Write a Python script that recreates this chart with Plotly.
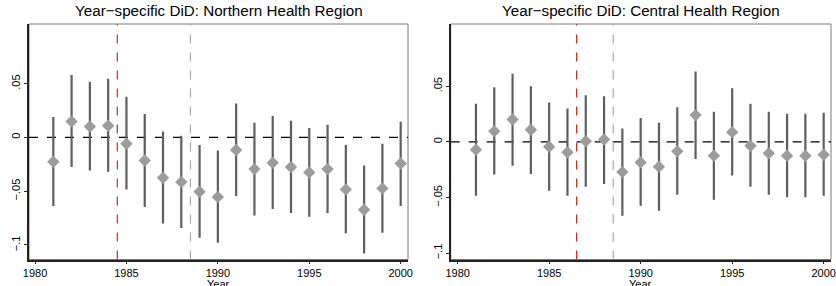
import plotly.graph_objects as go

years = list(range(1981, 2001))

# Northern Health Region
north_est = [-0.0226, 0.0149, 0.0102, 0.0109, -0.0059, -0.0214, -0.0375, -0.0415, -0.0505, -0.0554,
             -0.0117, -0.0294, -0.0235, -0.0275, -0.0325, -0.0294, -0.0483, -0.0672, -0.0474, -0.0242]
north_hi = [0.019, 0.058, 0.0518, 0.0546, 0.0378, 0.0217, 0.0056, 0.0016, -0.0071, -0.0121,
            0.0316, 0.0137, 0.0199, 0.0155, 0.0087, 0.0118, -0.0071, -0.026, -0.0059, 0.0146]
north_lo = [-0.0638, -0.0275, -0.0307, -0.0319, -0.0483, -0.0647, -0.080, -0.0842, -0.0932, -0.0979,
            -0.0545, -0.0725, -0.0666, -0.0703, -0.0737, -0.0703, -0.0892, -0.108, -0.0886, -0.0638]

# Central Health Region
central_est = [-0.0070, 0.0097, 0.0202, 0.0109, -0.0043, -0.0094, 0.0007, 0.0022, -0.0271, -0.0184,
               -0.0223, -0.0085, 0.0241, -0.0124, 0.0088, -0.0034, -0.0103, -0.0124, -0.0124, -0.0115]
central_hi = [0.0343, 0.0492, 0.0612, 0.0501, 0.0355, 0.0301, 0.0420, 0.0411, 0.0121, 0.0214,
              0.0172, 0.0312, 0.0633, 0.0271, 0.0483, 0.0343, 0.0271, 0.0253, 0.0253, 0.0262]
central_lo = [-0.0483, -0.0294, -0.0214, -0.0289, -0.0438, -0.0483, -0.0402, -0.0379, -0.0663, -0.0573,
              -0.0618, -0.0474, -0.0154, -0.0519, -0.0303, -0.0402, -0.0474, -0.0498, -0.0498, -0.0483]

titles = ["Year\u2212specific DiD: Northern Health Region", "Year\u2212specific DiD: Central Health Region"]
red_line = [1984.5, 1986.5]
gray_line = [1988.5, 1988.5]

y_tickvals = [-0.1, -0.05, 0, 0.05]
y_ticktext = ["\u2212.1", "\u2212.05", "0", ".05"]
x_tickvals = [1980, 1985, 1990, 1995, 2000]

W, H = 836, 286
xdoms = [[29 / W, 408 / W], [450.7 / W, 831 / W]]
ydom = [(H - 259.5) / H, (H - 24) / H]
xranges = [[1979.67, 2000.4], [1979.62, 2000.4]]
yranges = [[-0.1135, 0.1055], [-0.1057, 0.106]]

FONT = "Liberation Sans, Arial, sans-serif"
fig = go.Figure()
series = [(north_est, north_hi, north_lo), (central_est, central_hi, central_lo)]
shapes = []
annotations = []
for i, (est, hi, lo) in enumerate(series):
    xa = "x" if i == 0 else "x2"
    ya = "y" if i == 0 else "y2"
    fig.add_trace(go.Scatter(
        x=years, y=est, mode="markers", xaxis=xa, yaxis=ya,
        marker=dict(symbol="diamond", size=9.5, color="#9c9c9c", line=dict(width=0)),
        error_y=dict(type="data", symmetric=False,
                     array=[h - e for h, e in zip(hi, est)],
                     arrayminus=[e - l for e, l in zip(est, lo)],
                     color="#5e5e5e", thickness=2.2, width=0),
        showlegend=False, cliponaxis=False, hoverinfo="skip",
    ))
    shapes.append(dict(type="rect", xref="paper", yref="paper",
                       x0=xdoms[i][0], x1=xdoms[i][1], y0=ydom[0], y1=ydom[1],
                       line=dict(color="#7a7a7a", width=1), layer="below"))
    shapes.append(dict(type="line", xref=xa + " domain", yref=ya,
                       x0=0, x1=1, y0=0, y1=0,
                       line=dict(color="black", width=1.2, dash="dash"), layer="below"))
    shapes.append(dict(type="line", xref=xa, yref=ya + " domain",
                       x0=red_line[i], x1=red_line[i], y0=0, y1=1,
                       line=dict(color="#e8201a", width=1.2, dash="dash"), layer="below"))
    shapes.append(dict(type="line", xref=xa, yref=ya + " domain",
                       x0=gray_line[i], x1=gray_line[i], y0=0, y1=1,
                       line=dict(color="#a8a8a8", width=1.2, dash="dash"), layer="below"))
    cx = (xdoms[i][0] + xdoms[i][1]) / 2
    annotations.append(dict(text=titles[i], xref="paper", yref="paper",
                            x=cx, y=(H - 10) / H,
                            xanchor="center", yanchor="middle", showarrow=False,
                            font=dict(family=FONT, size=15.2, color="black")))
    annotations.append(dict(text="Year", xref="paper", yref="paper",
                            x=cx, y=(H - 283.5) / H,
                            xanchor="center", yanchor="middle", showarrow=False,
                            font=dict(family=FONT, size=11, color="black")))

axis_common = dict(showgrid=False, zeroline=False, showline=True, linecolor="#222",
                   linewidth=1.5, ticks="outside", ticklen=3, tickcolor="#222", tickwidth=1,
                   automargin=False, ticklabeloverflow="allow",
                   tickfont=dict(family=FONT, size=11, color="black"))

layout = dict(
    width=W, height=H, margin=dict(l=0, r=0, t=0, b=0),
    paper_bgcolor="white", plot_bgcolor="white",
    shapes=shapes, annotations=annotations, showlegend=False, hovermode=False,
)
for i in range(2):
    sx = "" if i == 0 else "2"
    layout["xaxis" + sx] = dict(axis_common, domain=xdoms[i], range=xranges[i],
                                 tickvals=x_tickvals, anchor="y" + sx)
    layout["yaxis" + sx] = dict(axis_common, domain=ydom, range=yranges[i],
                                 tickvals=y_tickvals, ticktext=y_ticktext, tickangle=-90,
                                 anchor="x" + sx)
fig.update_layout(**layout)
fig.write_html("out.html", config={"displayModeBar": False},
               post_script="document.body.style.margin='0';document.body.style.overflow='hidden';")
